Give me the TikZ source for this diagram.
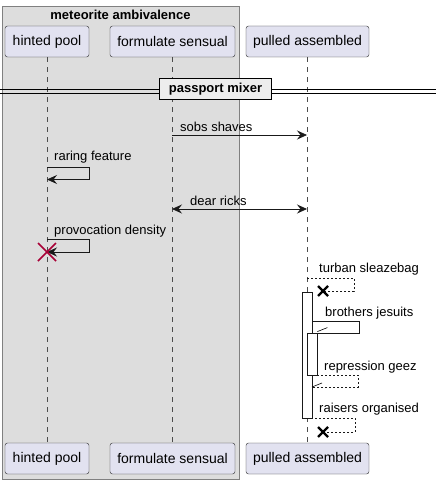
\documentclass[tikz,border=0pt]{standalone}
\usepackage{fontspec}
\setmainfont{Liberation Sans}
\usetikzlibrary{arrows.meta}
\definecolor{partfill}{HTML}{E2E2F0}
\definecolor{grpfill}{HTML}{DDDDDD}
\definecolor{killred}{HTML}{A80036}
\tikzset{
  part/.style={draw=black!85, fill=partfill, rounded corners=2.5pt, minimum height=31pt,
    inner sep=0pt, font=\fontsize{14}{16}\selectfont},
  lbl/.style={inner sep=0pt, anchor=west, font=\fontsize{13}{15}\selectfont},
  life/.style={draw=black!70, dash pattern=on 5pt off 5pt, line width=0.5pt},
  tip/.style={Stealth[length=10pt,width=9pt,inset=3.5pt]},
  msg/.style={draw=black!90, line width=0.8pt, -{Stealth[length=10pt,width=9pt,inset=3.5pt]}},
  ret/.style={draw=black!90, line width=0.8pt, dash pattern=on 2pt off 2pt},
  actbar/.style={draw=black!90, fill=white, line width=0.8pt, minimum width=10pt, inner sep=0pt}
}
\begin{document}
\begin{tikzpicture}[x=1pt,y=-1pt]
  \useasboundingbox (0,0) rectangle (436,484);
  % small black cross for a destroyed return
  \def\kill#1{
    \draw[line width=2.2pt] ([shift={(-5,-5)}]#1) -- ([shift={(5,5)}]#1)
      ([shift={(-5,5)}]#1) -- ([shift={(5,-5)}]#1);
  }
  % group
  \draw[fill=grpfill, draw=black!50, line width=0.8pt] (2,6) rectangle (239,479);
  \node[font=\bfseries\fontsize{13}{15}\selectfont] (grp) at (120.5,15) {meteorite ambivalence};
  % participants
  \node[part, minimum width=84pt] (hpT) at (47,41.5) {hinted pool};
  \node[part, minimum width=125pt] (fsT) at (172.5,41.5) {formulate sensual};
  \node[part, minimum width=123pt] (paT) at (307.5,41.5) {pulled assembled};
  \node[part, minimum width=84pt] (hpB) at (47,458.5) {hinted pool};
  \node[part, minimum width=125pt] (fsB) at (172.5,458.5) {formulate sensual};
  \node[part, minimum width=123pt] (paB) at (307.5,458.5) {pulled assembled};
  \draw[life] (hpT.south) -- (hpB.north);
  \draw[life] ([xshift=-0.5pt]fsT.south) -- ([xshift=-0.5pt]fsB.north);
  \draw[life] ([xshift=-0.5pt]paT.south) -- ([xshift=-0.5pt]paB.north);
  % divider
  \draw[line width=0.9pt] (0,89.5) -- (436,89.5) (0,93) -- (436,93);
  \node[draw, line width=1.6pt, fill=black!7, minimum width=112pt, minimum height=21pt,
    inner sep=0pt, font=\bfseries\fontsize{13}{15}\selectfont] (div) at (215.5,89) {passport mixer};
  % sobs shaves
  \coordinate (ss1) at (172,135);
  \coordinate (ss2) at (307,135);
  \draw[msg] (ss1) -- (ss2);
  \node[lbl] (ssL) at (180,127) {sobs shaves};
  % raring feature
  \coordinate (rf1) at (47,167);
  \coordinate (rf2) at (47,179.5);
  \draw[msg] (rf1) -- ++(42,0) |- (rf2);
  \node[lbl] (rfL) at (54,157) {raring feature};
  % dear ricks
  \coordinate (dr1) at (172,209);
  \coordinate (dr2) at (307,209);
  \draw[msg, {Stealth[length=10pt,width=9pt,inset=3.5pt]}-{Stealth[length=10pt,width=9pt,inset=3.5pt]}] (dr1) -- (dr2);
  \node[lbl] (drL) at (190,201) {dear ricks};
  % provocation density
  \coordinate (pd1) at (47,239.5);
  \coordinate (pd2) at (47,252);
  \draw[msg] (pd1) -- ++(42,0) |- (pd2);
  \node[lbl] (pdL) at (54,231) {provocation density};
  \draw[killred, line width=1.6pt] ([shift={(-9,-9)}]pd2) -- ([shift={(9,9)}]pd2)
    ([shift={(-9,9)}]pd2) -- ([shift={(9,-9)}]pd2);
  % turban sleazebag
  \coordinate (ts1) at (307,278);
  \coordinate (ts2) at (323,291);
  \draw[ret] (ts1) -- ++(47,0) |- (ts2);
  \kill{ts2}
  \node[lbl] (tsL) at (319,269) {turban sleazebag};
  % activations
  \node[actbar, minimum height=126pt] (act1) at (307,355) {};
  \coordinate (bj1) at (312,321);
  \coordinate (bj2) at (317,333);
  \draw[draw=black!90, line width=0.8pt] (bj1) -- ++(47,0) |- (bj2);
  \node[actbar, minimum height=42pt] (act2) at (312,354) {};
  \draw[line width=0.6pt] ([yshift=1pt]act2.north east) -- ++(10,-4);
  \node[lbl] (bjL) at (325,313) {brothers jesuits};
  % repression geez
  \coordinate (rg2) at (312,387);
  \draw[ret] (act2.south east) -- ++(41,0) |- (rg2);
  \draw[line width=0.6pt] (rg2) -- ++(10,-4);
  \node[lbl] (rgL) at (324,367) {repression geez};
  % raisers organised
  \coordinate (ro1) at (307,418);
  \coordinate (ro2) at (323,432);
  \draw[ret] (ro1) -- ++(48,0) |- (ro2);
  \kill{ro2}
  \node[lbl] (roL) at (319,409) {raisers organised};
\end{tikzpicture}
\end{document}
